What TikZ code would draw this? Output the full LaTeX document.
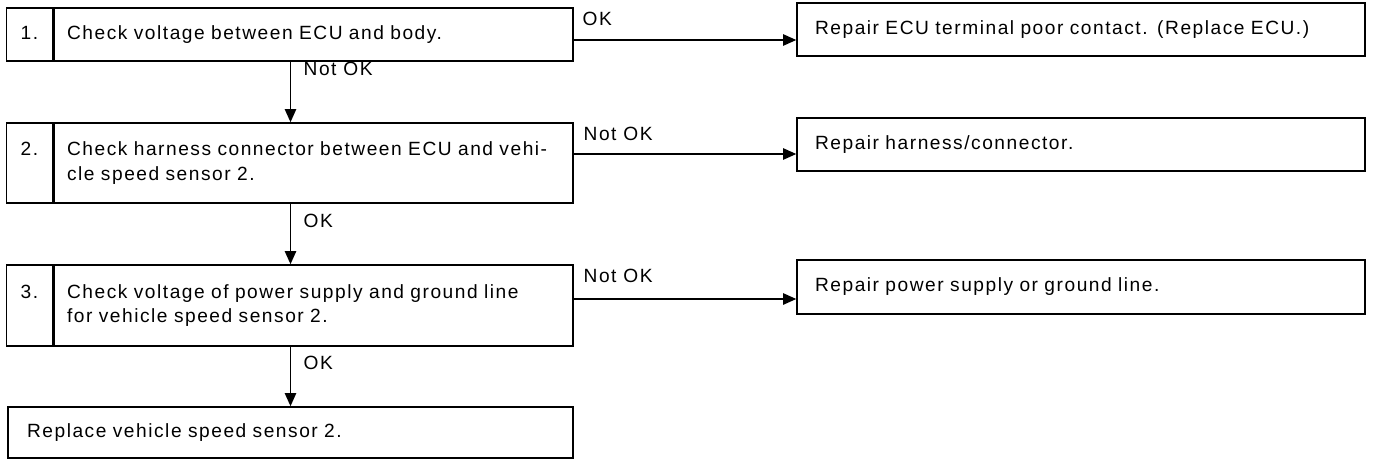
\documentclass[tikz,border=0pt]{standalone}
\usepackage{fontspec}
\setmainfont[LetterSpace=8]{Liberation Sans}
\usepackage{tikz}
\usetikzlibrary{arrows.meta}
\newcommand\cellfont{\fontsize{10.9pt}{14.2pt}\selectfont}
\tikzset{
  cell/.style={draw, line width=0.9pt, inner xsep=0pt, inner ysep=0pt, align=left,
    font=\cellfont, execute at begin node=\strut, execute at end node=\strut},
  num/.style={cell, minimum width=0.92cm, text width=0.6cm, align=center},
  chk/.style={cell, minimum width=10.38cm, text width=9.86cm},
  fix/.style={cell, minimum width=11.36cm, text width=10.64cm},
  lbl/.style={inner sep=0pt, font=\cellfont, anchor=base west},
  >={Triangle[length=7.5pt,width=6.5pt]}
}
\begin{document}
\begin{tikzpicture}[x=0.02cm, y=-0.02cm, line width=0.8pt]
  \useasboundingbox (0,0) rectangle (1373,460);
  % checks
  \node[chk, minimum height=1.06cm] (c1) at (313.5,34.5) {Check voltage between ECU and body.};
  \node[num, minimum height=1.06cm, anchor=east] (n1) at (c1.west) {1.};
  \node[chk, minimum height=1.6cm] (c2) at (313.5,163) {Check harness connector between ECU and vehi-\\cle speed sensor 2.};
  \node[num, minimum height=1.6cm, anchor=east] (n2) at (c2.west) {2.\\};
  \node[chk, minimum height=1.62cm] (c3) at (313.5,305.5) {Check voltage of power supply and ground line\\for vehicle speed sensor 2.};
  \node[num, minimum height=1.62cm, anchor=east] (n3) at (c3.west) {3.\\};
  \node[cell, minimum width=11.3cm, text width=10.54cm, minimum height=1.02cm] (rep) at (290.5,432.5) {Replace vehicle speed sensor 2.};
  % repairs
  \node[fix, minimum height=1.06cm] (r1) at (1081,29.5) {Repair ECU terminal poor contact. (Replace ECU.)};
  \node[fix, minimum height=1.06cm] (r2) at (1081,144.5) {Repair harness/connector.};
  \node[fix, minimum height=1.08cm] (r3) at (1081,287) {Repair power supply or ground line.};
  \coordinate (y1) at (0,40);
  \coordinate (y2) at (0,154);
  \coordinate (y3) at (0,299);
  % arrows
  \draw[->] (c1.south -| rep) -- (c2.north -| rep);
  \draw[->] (c2.south -| rep) -- (c3.north -| rep);
  \draw[->] (c3.south -| rep) -- (rep.north);
  \draw[->] (c1.east |- y1) -- (r1.west |- y1);
  \draw[->] (c2.east |- y2) -- (r2.west |- y2);
  \draw[->] (c3.east |- y3) -- (r3.west |- y3);
  % labels
  \node[lbl] (nok1) at (303,75) {Not OK};
  \node[lbl] (ok2) at (303,227) {OK};
  \node[lbl] (ok3) at (303,369) {OK};
  \node[lbl] (ok1) at (582,25) {OK};
  \node[lbl] (nok2) at (583,140) {Not OK};
  \node[lbl] (nok3) at (583,282) {Not OK};
\end{tikzpicture}
\end{document}
